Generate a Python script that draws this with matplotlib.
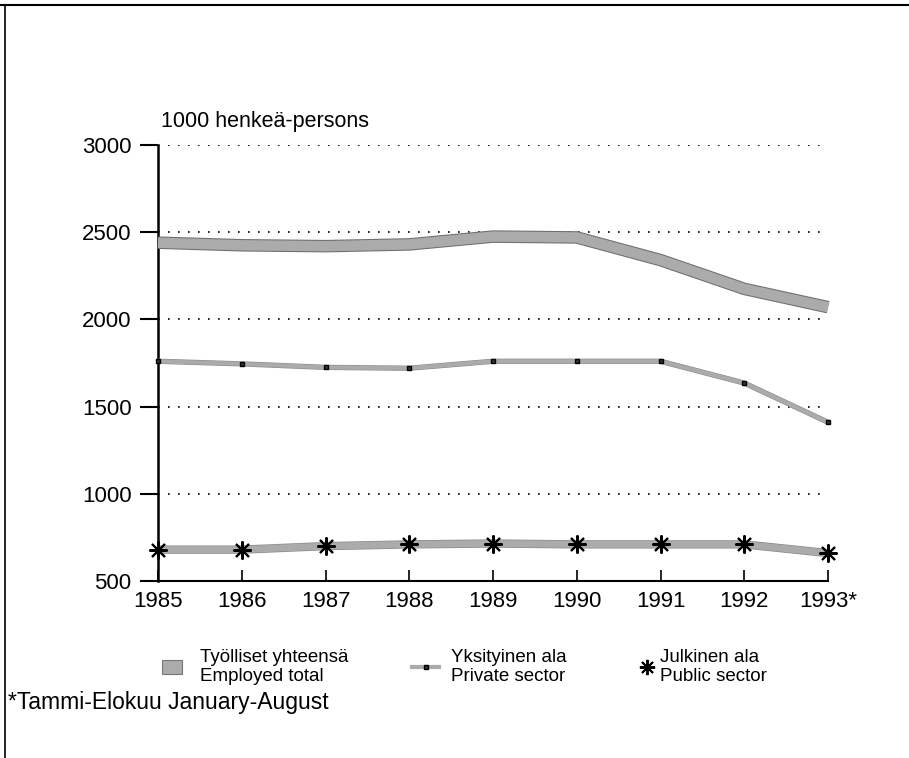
import matplotlib
matplotlib.use("Agg")
import matplotlib.pyplot as plt
import matplotlib.patheffects as pe
from matplotlib.lines import Line2D
from matplotlib.patches import Patch

plt.rcParams["font.family"] = ["Liberation Sans", "DejaVu Sans"]

# =========================
# DATA
# =========================

years = [1985, 1986, 1987, 1988, 1989, 1990, 1991, 1992, 1993]
year_labels = ["1985", "1986", "1987", "1988", "1989", "1990", "1991", "1992", "1993*"]

total = [2440, 2425, 2420, 2430, 2475, 2470, 2340, 2175, 2070]
private = [1760, 1745, 1725, 1720, 1760, 1760, 1760, 1635, 1410]
public = [680, 680, 700, 710, 715, 710, 710, 710, 660]

yticks = [500, 1000, 1500, 2000, 2500, 3000]

# =========================
# FIGURE
# =========================

fig = plt.figure(figsize=(9.09, 7.58), dpi=100)
ax = fig.add_axes([0.1738, 0.2335, 0.7372, 0.5752])

band = "#ababab"

ax.plot(years, total, color=band, lw=7.5, solid_capstyle="butt",
        path_effects=[pe.Stroke(linewidth=9, foreground="#6e6e6e"), pe.Normal()],
        zorder=3, clip_on=False)

ax.plot(years, private, color=band, lw=3, solid_capstyle="butt",
        path_effects=[pe.Stroke(linewidth=3.8, foreground="#8a8a8a"), pe.Normal()],
        zorder=3, clip_on=False)
ax.plot(years, private, ls="none", marker="s", ms=3.5, mfc="#333333",
        mec="black", mew=1.0, zorder=4, clip_on=False)

ax.plot(years, public, color=band, lw=5, solid_capstyle="butt",
        path_effects=[pe.Stroke(linewidth=6, foreground="#8a8a8a"), pe.Normal()],
        zorder=3, clip_on=False)
ax.plot(years, public, ls="none", marker=(8, 2, 0), ms=13, mec="black",
        mew=1.5, zorder=4, clip_on=False)

# dotted gridlines
for v in yticks[1:]:
    ax.plot([years[0], years[-1]], [v, v], color="black", lw=1.2,
            ls=(0, (1, 5)), zorder=1)

ax.set_xlim(years[0], years[-1])
ax.set_ylim(500, 3000)
ax.set_xticks(years)
ax.set_xticklabels(year_labels)
ax.set_yticks(yticks)

ax.spines["top"].set_visible(False)
ax.spines["right"].set_visible(False)
ax.spines["left"].set_linewidth(1.8)
ax.spines["bottom"].set_linewidth(1.5)
ax.tick_params(axis="x", direction="in", length=8, width=1.2,
               labelsize=16, pad=7)
ax.tick_params(axis="y", direction="out", length=13, width=1.5,
               labelsize=16, pad=6)

fig.text(161 / 909, 1 - 121 / 758, "1000 henkeä-persons", fontsize=15.5,
         va="center", ha="left")

# =========================
# LEGEND
# =========================

def legend_entry(handle, x, label, hlen, pad):
    leg = fig.legend(handles=[handle], labels=[label],
                     loc="center left",
                     bbox_to_anchor=(x / 909, 1 - 667 / 758),
                     frameon=False, fontsize=13.5, handlelength=hlen,
                     handletextpad=pad, borderpad=0, borderaxespad=0)
    return leg

h_total = Patch(facecolor=band, edgecolor="#777777", lw=0.8)
h_priv = Line2D([], [], color=band, lw=3, marker="s", ms=3.5,
                mfc="#333333", mec="black", mew=1.0)
h_pub = Line2D([], [], color=band, lw=0, marker=(8, 2, 0), ms=11,
               mec="black", mew=1.4)

legend_entry(h_total, 162, "Työlliset yhteensä\nEmployed total", 1.05, 1.0)
legend_entry(h_priv, 412, "Yksityinen ala\nPrivate sector", 1.45, 0.65)
legend_entry(h_pub, 638, "Julkinen ala\nPublic sector", 1.0, 0.2)

fig.text(8 / 909, 1 - 703 / 758, "*Tammi-Elokuu January-August",
         fontsize=16.5, va="center", ha="left")

# frame around figure (top and left only)
fig.add_artist(Line2D([0, 1], [1 - 5 / 758, 1 - 5 / 758], color="black",
                      lw=1.5, transform=fig.transFigure))
fig.add_artist(Line2D([5 / 909, 5 / 909], [0, 1 - 5 / 758], color="black",
                      lw=1.2, transform=fig.transFigure))

fig.savefig("out.png", dpi=100)
